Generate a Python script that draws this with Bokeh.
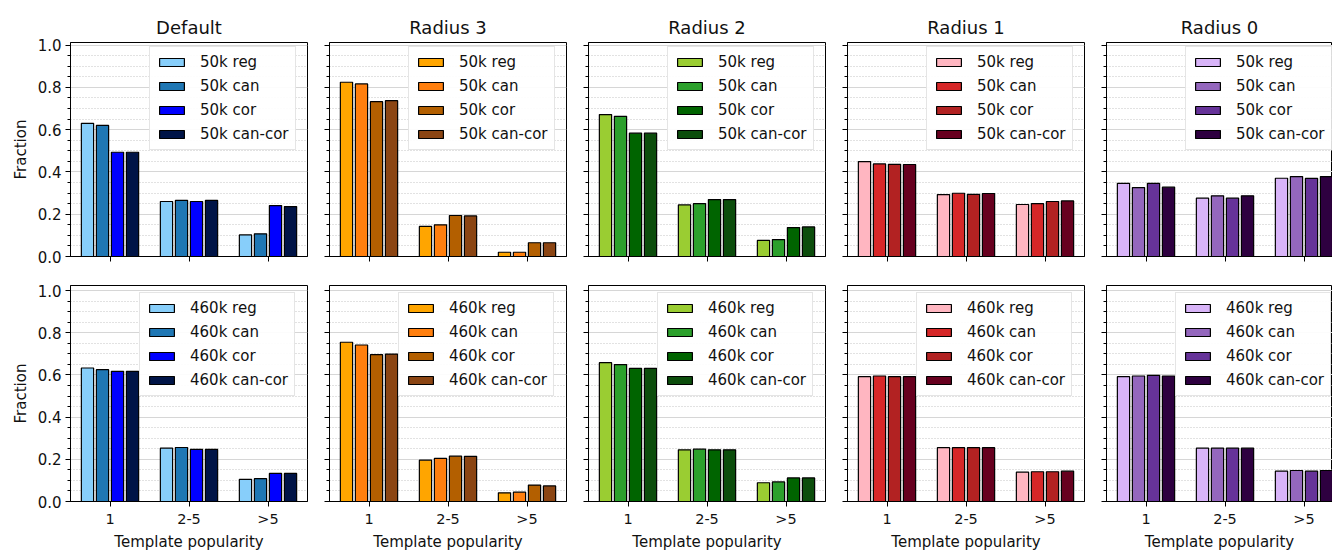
import numpy as np
from bokeh.plotting import figure
from bokeh.layouts import gridplot
from bokeh.models import (FixedTicker, SingleIntervalTicker, Range1d, NumeralTickFormatter,
                          CustomJSTickFormatter)
from bokeh.embed import file_html
from bokeh.resources import INLINE

# ---------------- data ----------------
categories = ["1", "2-5", ">5"]
panel_titles = ["Default", "Radius 3", "Radius 2", "Radius 1", "Radius 0"]
series_names = ["reg", "can", "cor", "can-cor"]
dataset_sizes = ["50k", "460k"]

# rows = series (reg, can, cor, can-cor), columns = categories (1, 2-5, >5)
default_50k = [[0.630, 0.260, 0.102], [0.620, 0.265, 0.107], [0.493, 0.260, 0.241], [0.493, 0.265, 0.236]]
radius3_50k = [[0.824, 0.142, 0.020], [0.816, 0.150, 0.020], [0.732, 0.194, 0.065], [0.737, 0.192, 0.065]]
radius2_50k = [[0.671, 0.244, 0.076], [0.663, 0.250, 0.080], [0.583, 0.269, 0.137], [0.583, 0.269, 0.140]]
radius1_50k = [[0.449, 0.293, 0.246], [0.438, 0.299, 0.250], [0.436, 0.294, 0.260], [0.435, 0.298, 0.263]]
radius0_50k = [[0.346, 0.276, 0.370], [0.326, 0.287, 0.378], [0.346, 0.276, 0.369], [0.328, 0.287, 0.378]]

default_460k = [[0.633, 0.253, 0.105], [0.625, 0.256, 0.108], [0.617, 0.247, 0.133], [0.617, 0.247, 0.133]]
radius3_460k = [[0.755, 0.196, 0.041], [0.742, 0.204, 0.044], [0.696, 0.215, 0.078], [0.699, 0.214, 0.074]]
radius2_460k = [[0.658, 0.245, 0.089], [0.649, 0.248, 0.093], [0.631, 0.245, 0.112], [0.631, 0.245, 0.112]]
radius1_460k = [[0.592, 0.255, 0.139], [0.595, 0.255, 0.141], [0.592, 0.255, 0.141], [0.592, 0.255, 0.144]]
radius0_460k = [[0.592, 0.253, 0.144], [0.595, 0.253, 0.147], [0.598, 0.253, 0.144], [0.595, 0.253, 0.147]]

values_50k = [default_50k, radius3_50k, radius2_50k, radius1_50k, radius0_50k]
values_460k = [default_460k, radius3_460k, radius2_460k, radius1_460k, radius0_460k]

default_colors = ["#87cefa", "#1f77b4", "#0000ff", "#001447"]
radius3_colors = ["#ffa500", "#ff7f0e", "#b35f00", "#8b4513"]
radius2_colors = ["#9acd32", "#2ca02c", "#006400", "#0c4d0c"]
radius1_colors = ["#ffb6c1", "#d62728", "#b22222", "#67001f"]
radius0_colors = ["#d8b4f8", "#9467bd", "#663399", "#2e0040"]
panel_colors = [default_colors, radius3_colors, radius2_colors, radius1_colors, radius0_colors]

# ---------------- style ----------------
FONT = "DejaVu Sans"
FRAME_W = 237
LAST_W = 226
UNIT_PX = FRAME_W / 3.0
STEP = 0.19
BAR_W = 0.155
LEG_H = 2 * 6 + 4 * 18 + 3 * 6


def make_panel(r, c, vals, colors, size):
    first = c == 0
    last = c == 4
    bottom = r == 1
    fw = LAST_W if last else FRAME_W
    fh = 214 if r == 0 else 216
    ymax = 1.012 if r == 0 else 1.024
    x_end = -0.5 + fw / UNIT_PX
    kw = {}
    if r == 0:
        kw["title"] = panel_titles[c]
    p = figure(frame_width=fw, frame_height=fh,
               x_range=Range1d(-0.5, x_end), y_range=Range1d(0, ymax),
               output_backend="svg", toolbar_location=None,
               min_border_left=70 if first else 11,
               min_border_right=0 if last else 11,
               min_border_top=42 if r == 0 else 10,
               min_border_bottom=47 if bottom else 19,
               background_fill_color="white", border_fill_color="white", **kw)

    for k, name in enumerate(series_names):
        xs = [i + (k - 1.5) * STEP for i in range(len(categories))]
        p.vbar(x=xs, top=vals[k], width=BAR_W, fill_color=colors[k],
               line_color="black", line_width=1.2, legend_label=f"{size} {name}")

    # axes
    p.xaxis.ticker = FixedTicker(ticks=list(range(len(categories))))
    p.xaxis.major_label_overrides = {i: lab for i, lab in enumerate(categories)}
    yt = SingleIntervalTicker(interval=0.2, num_minor_ticks=4)
    p.yaxis.ticker = yt
    p.ygrid.ticker = yt
    p.yaxis.formatter = NumeralTickFormatter(format="0.0")

    for ax in (p.xaxis[0], p.yaxis[0]):
        ax.axis_line_color = "black"
        ax.major_tick_line_color = "black"
        ax.minor_tick_line_color = "black"
        ax.major_tick_out = 5
        ax.major_tick_in = 0
        ax.minor_tick_out = 3
        ax.minor_tick_in = 0
        ax.major_label_text_font = FONT
        ax.major_label_text_color = "#111111"
        ax.axis_label_text_font = FONT
        ax.axis_label_text_font_size = "15px"
        ax.axis_label_text_font_style = "normal"
        ax.axis_label_text_color = "#111111"
        ax.major_label_standoff = 4
    p.yaxis.major_label_text_font_size = "15px"
    p.xaxis.major_label_text_font_size = "14.5px"

    if bottom:
        p.xaxis.axis_label = "Template popularity"
        p.xaxis.axis_label_standoff = 3
    else:
        p.xaxis.major_label_overrides = {}
        p.xaxis.formatter = CustomJSTickFormatter(code="return ''")
        p.xaxis.major_label_standoff = 0
    if first:
        p.yaxis.axis_label = "Fraction"
        p.yaxis.axis_label_standoff = 5
    else:
        p.yaxis.formatter = CustomJSTickFormatter(code="return ''")
        p.yaxis.major_label_standoff = 0

    # grid
    p.xgrid.visible = False
    p.ygrid.grid_line_color = "#d6d6d6"
    p.ygrid.grid_line_width = 1
    p.ygrid.minor_grid_line_color = "#c4c4c4"
    p.ygrid.minor_grid_line_dash = "1 2"
    p.ygrid.minor_grid_line_width = 1

    p.outline_line_color = "black"
    p.outline_line_width = 1
    p.outline_line_alpha = 1

    if r == 0:
        p.title.align = "center"
        p.title.text_font = FONT
        p.title.text_font_size = "18px"
        p.title.text_font_style = "normal"
        p.title.text_color = "#111111"

    leg = p.legend[0]
    leg.location = (79, fh - 6 - LEG_H) if r == 0 else (69, fh - 9 - LEG_H)
    leg.label_text_font = FONT
    leg.label_text_font_size = "15px"
    leg.label_text_color = "#111111"
    leg.glyph_width = 31
    leg.glyph_height = 10
    leg.label_standoff = 13
    leg.label_height = 18
    leg.padding = 6
    leg.spacing = 6
    leg.margin = 0
    leg.border_line_color = "#cccccc"
    leg.border_line_width = 1
    leg.background_fill_alpha = 0.92
    return p


rows = []
for r, (size, vals_all) in enumerate(zip(dataset_sizes, [values_50k, values_460k])):
    rows.append([make_panel(r, c, vals_all[c], panel_colors[c], size) for c in range(5)])

grid = gridplot(rows, toolbar_location=None)
open("out.html", "w").write(file_html(grid, INLINE))
